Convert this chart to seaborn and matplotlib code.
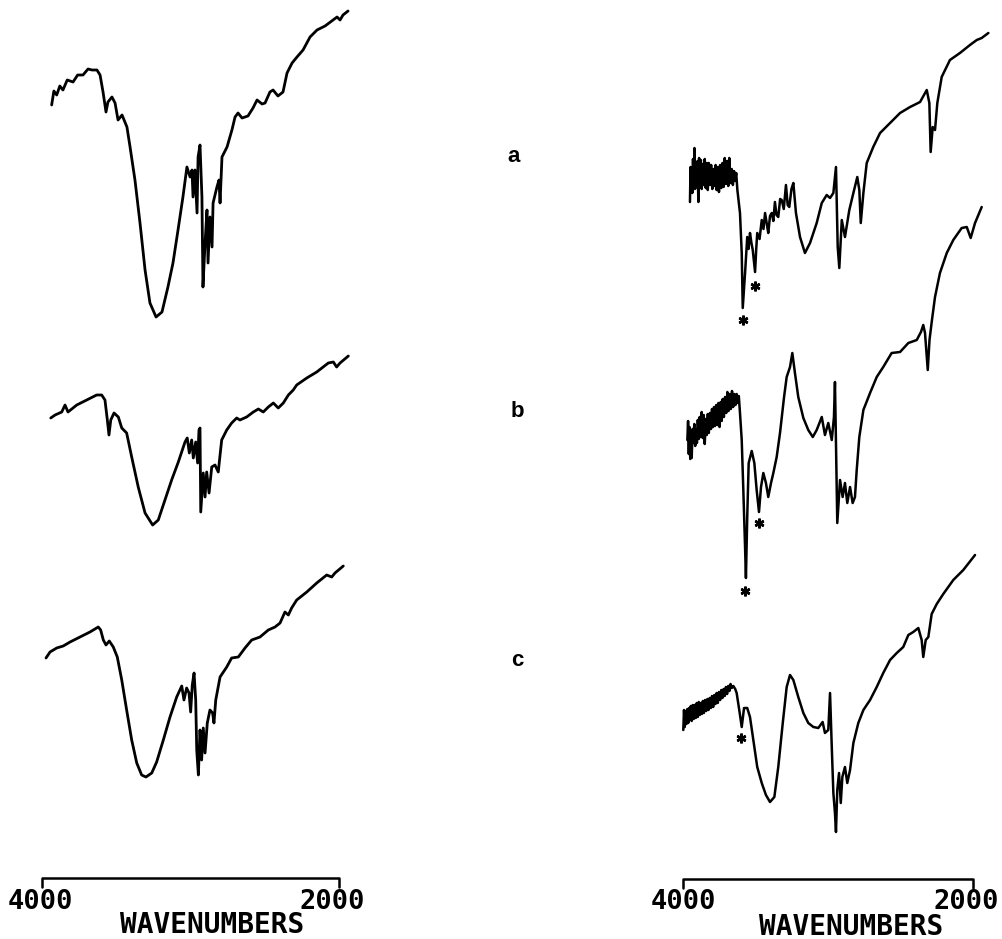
import numpy as np
import matplotlib
matplotlib.use("Agg")
import matplotlib.pyplot as plt
import pandas as pd
import seaborn as sns

# IR spectra: (wavenumber cm-1, offset transmittance, arbitrary units)
left_a = [(3935, 83.4), (3920, 84.8), (3901, 84.4), (3880, 85.3), (3859, 84.9), (3830, 85.9),
          (3791, 85.7), (3760, 86.4), (3724, 86.4), (3690, 87.0), (3663, 86.9), (3630, 86.9),
          (3609, 86.4), (3589, 84.7), (3569, 82.7), (3556, 83.7), (3529, 84.2), (3508, 83.6),
          (3488, 81.9), (3461, 82.4), (3428, 81.2), (3407, 79.2), (3374, 75.9), (3340, 71.6),
          (3306, 66.9), (3273, 63.6), (3232, 62.2), (3192, 62.7), (3152, 65.2), (3118, 67.6),
          (3084, 70.9), (3051, 74.2), (3024, 77.2), (3003, 76.2), (2990, 76.9), (2983, 74.2),
          (2970, 76.9), (2956, 72.6), (2949, 78.2), (2936, 79.4), (2923, 74.2), (2916, 65.2),
          (2902, 69.6), (2889, 72.9), (2882, 67.6), (2869, 72.2), (2855, 69.2), (2848, 73.6),
          (2822, 75.2), (2808, 75.9), (2801, 73.6), (2788, 78.2), (2754, 79.2), (2721, 80.9),
          (2700, 82.2), (2680, 82.6), (2653, 82.1), (2613, 82.3), (2579, 83.1), (2552, 83.9),
          (2518, 83.5), (2498, 83.6), (2465, 84.7), (2444, 84.9), (2411, 84.3), (2377, 84.7),
          (2350, 86.6), (2316, 87.6), (2283, 88.2), (2242, 88.9), (2195, 90.2), (2148, 90.9),
          (2094, 91.3), (2040, 91.9), (2013, 92.2), (1993, 91.9), (1973, 92.4), (1939, 92.8)]

left_b = [(3941, 52.1), (3912, 52.4), (3867, 52.7), (3845, 53.4), (3825, 52.7), (3766, 53.4),
          (3699, 53.9), (3632, 54.4), (3598, 54.4), (3576, 53.9), (3560, 51.9), (3549, 50.4),
          (3537, 51.9), (3515, 52.6), (3486, 52.2), (3463, 51.1), (3430, 50.6), (3396, 48.2),
          (3352, 45.2), (3306, 42.6), (3255, 41.4), (3217, 41.9), (3172, 43.9), (3127, 45.9),
          (3082, 47.7), (3037, 49.7), (3022, 50.1), (3008, 48.6), (2992, 49.9), (2981, 48.1),
          (2965, 49.7), (2952, 47.6), (2943, 50.9), (2936, 51.1), (2931, 42.7), (2914, 46.6),
          (2902, 44.2), (2891, 46.7), (2875, 44.6), (2857, 47.2), (2835, 47.4), (2813, 46.7),
          (2806, 47.7), (2790, 49.9), (2756, 50.9), (2723, 51.6), (2689, 52.1), (2667, 51.9),
          (2622, 52.2), (2577, 52.7), (2543, 53.0), (2510, 52.7), (2476, 53.2), (2442, 53.6),
          (2409, 53.1), (2375, 53.6), (2341, 54.4), (2308, 54.9), (2285, 55.4), (2217, 56.1),
          (2150, 56.7), (2072, 57.6), (2038, 57.7), (2016, 57.2), (1993, 57.6), (1937, 58.3)]

left_c = [(3973, 28.1), (3946, 28.7), (3901, 29.1), (3857, 29.3), (3811, 29.7), (3744, 30.2),
          (3677, 30.7), (3621, 31.2), (3605, 30.9), (3587, 29.9), (3569, 29.4), (3547, 29.8),
          (3520, 29.2), (3493, 28.2), (3463, 25.9), (3430, 22.9), (3396, 19.9), (3362, 17.6),
          (3329, 16.4), (3300, 16.2), (3261, 16.6), (3228, 17.7), (3183, 19.9), (3138, 22.2),
          (3093, 24.2), (3059, 25.3), (3044, 23.9), (3026, 25.1), (3010, 24.6), (2999, 22.7),
          (2988, 25.4), (2976, 26.6), (2965, 23.9), (2958, 18.9), (2947, 16.4), (2936, 20.9),
          (2925, 17.9), (2914, 21.1), (2902, 18.6), (2887, 21.6), (2869, 22.9), (2851, 22.6),
          (2842, 21.6), (2830, 23.9), (2801, 26.2), (2756, 27.2), (2723, 28.1), (2678, 28.2),
          (2633, 29.1), (2588, 29.9), (2532, 30.2), (2476, 30.9), (2431, 31.2), (2397, 31.6),
          (2364, 32.7), (2341, 32.4), (2319, 33.1), (2285, 33.9), (2217, 34.7), (2150, 35.6),
          (2083, 36.4), (2049, 36.2), (2027, 36.6), (1971, 37.3)]

right_a = [(3952, 73.7), (3948, 77.2), (3944, 74.9), (3940, 76.8), (3936, 74.6), (3931, 78.0),
           (3926, 75.5), (3921, 79.1), (3917, 75.0), (3912, 77.6), (3906, 75.2), (3900, 77.8),
           (3894, 73.7), (3889, 78.1), (3883, 75.3), (3877, 77.9), (3871, 75.0), (3864, 77.5),
           (3857, 75.4), (3850, 78.0), (3843, 75.1), (3836, 77.6), (3829, 74.9), (3822, 77.6),
           (3814, 75.4), (3806, 77.4), (3798, 75.0), (3791, 77.0), (3783, 75.3), (3775, 77.4),
           (3768, 74.9), (3760, 77.2), (3752, 74.7), (3744, 77.4), (3736, 75.1), (3728, 77.6),
           (3720, 75.2), (3712, 78.1), (3704, 75.5), (3696, 77.8), (3688, 75.3), (3681, 78.1),
           (3673, 75.6), (3664, 77.0), (3656, 75.4), (3648, 76.8), (3641, 75.8), (3633, 76.6),
           (3625, 74.9), (3607, 72.6), (3595, 68.6), (3588, 63.1), (3572, 66.6), (3557, 70.2),
           (3548, 69.0), (3538, 70.6), (3528, 69.6), (3519, 68.9), (3503, 66.7), (3495, 69.0),
           (3488, 70.6), (3472, 70.0), (3457, 71.9), (3445, 71.0), (3434, 72.6), (3422, 71.5),
           (3412, 70.6), (3400, 72.3), (3388, 72.6), (3377, 71.8), (3366, 73.7), (3355, 72.4),
           (3343, 72.2), (3330, 74.0), (3319, 73.9), (3305, 73.0), (3290, 75.4), (3278, 73.4),
           (3267, 73.2), (3252, 75.0), (3239, 75.6), (3221, 72.6), (3193, 70.2), (3159, 68.6),
           (3124, 69.6), (3078, 71.6), (3043, 73.6), (3009, 74.4), (2986, 74.1), (2963, 74.6),
           (2945, 77.2), (2933, 69.2), (2922, 67.1), (2905, 71.9), (2883, 70.2), (2853, 72.9),
           (2825, 74.6), (2798, 76.2), (2784, 74.9), (2774, 71.6), (2756, 74.6), (2733, 77.6),
           (2688, 79.2), (2641, 80.6), (2572, 81.6), (2503, 82.6), (2434, 83.2), (2365, 83.7),
           (2319, 84.9), (2301, 83.6), (2292, 78.7), (2278, 81.2), (2262, 80.9), (2246, 83.6),
           (2216, 86.2), (2159, 87.9), (2090, 88.6), (2021, 89.4), (1974, 89.9), (1940, 90.1),
           (1894, 90.6)]

right_b = [(3970, 49.9), (3965, 51.8), (3960, 48.5), (3955, 51.2), (3950, 48.0), (3944, 50.5),
           (3940, 48.1), (3934, 51.0), (3929, 49.6), (3922, 51.5), (3916, 49.3), (3910, 51.0),
           (3904, 49.6), (3898, 51.9), (3891, 50.0), (3885, 52.2), (3878, 50.2), (3871, 52.7),
           (3864, 50.1), (3857, 52.4), (3850, 49.5), (3843, 52.0), (3836, 50.4), (3829, 52.5),
           (3822, 50.6), (3814, 52.6), (3807, 51.0), (3800, 53.0), (3793, 51.2), (3786, 53.2),
           (3779, 51.3), (3771, 53.4), (3763, 51.4), (3756, 53.6), (3748, 51.2), (3740, 53.7),
           (3733, 51.8), (3726, 54.0), (3718, 52.2), (3710, 54.2), (3702, 52.6), (3694, 54.7),
           (3686, 52.8), (3678, 54.5), (3670, 53.0), (3662, 54.8), (3654, 53.2), (3646, 54.5),
           (3638, 53.4), (3630, 54.5), (3622, 53.6), (3615, 54.3), (3607, 52.6), (3595, 49.9),
           (3584, 44.9), (3572, 39.2), (3566, 36.1), (3557, 42.2), (3547, 47.6), (3526, 48.8),
           (3508, 47.6), (3492, 44.9), (3476, 42.7), (3462, 45.2), (3446, 46.6), (3428, 45.6),
           (3412, 44.2), (3393, 45.6), (3377, 46.6), (3354, 48.2), (3331, 50.6), (3303, 54.2),
           (3285, 56.2), (3262, 57.2), (3246, 58.6), (3228, 56.6), (3205, 54.2), (3170, 52.1),
           (3136, 50.9), (3105, 50.2), (3078, 50.9), (3043, 52.2), (3021, 50.4), (2998, 51.6),
           (2974, 49.9), (2959, 52.2), (2952, 55.7), (2945, 49.6), (2936, 41.6), (2917, 45.9),
           (2899, 44.2), (2883, 45.6), (2867, 43.6), (2848, 45.2), (2830, 43.6), (2814, 44.2),
           (2802, 46.9), (2784, 50.2), (2756, 52.9), (2710, 54.6), (2664, 56.2), (2619, 57.2),
           (2561, 58.6), (2503, 58.7), (2446, 59.6), (2388, 59.9), (2359, 60.7), (2343, 61.4),
           (2331, 60.6), (2312, 56.9), (2300, 59.9), (2283, 61.9), (2262, 64.2), (2228, 66.6),
           (2181, 68.6), (2136, 69.9), (2078, 71.1), (2043, 71.2), (2016, 70.1), (1986, 71.6),
           (1940, 73.2)]

right_c = [(3998, 20.9), (3993, 22.9), (3988, 21.2), (3982, 22.8), (3976, 21.5), (3970, 23.0),
           (3964, 21.6), (3958, 23.1), (3952, 21.9), (3946, 23.3), (3940, 21.8), (3933, 23.4),
           (3926, 22.0), (3919, 23.4), (3912, 22.1), (3905, 23.6), (3898, 22.2), (3891, 23.7),
           (3884, 22.4), (3877, 23.6), (3870, 22.5), (3863, 23.8), (3856, 22.6), (3848, 23.9),
           (3840, 22.8), (3832, 24.0), (3824, 22.9), (3816, 24.1), (3808, 23.1), (3800, 24.3),
           (3792, 23.2), (3784, 24.4), (3776, 23.5), (3768, 24.6), (3760, 23.6), (3752, 24.7),
           (3744, 23.9), (3736, 24.9), (3728, 24.1), (3720, 25.0), (3712, 24.3), (3704, 25.2),
           (3696, 24.5), (3688, 25.3), (3680, 24.8), (3672, 25.5), (3664, 25.1), (3653, 25.3),
           (3640, 25.0), (3630, 24.6), (3612, 22.9), (3595, 21.2), (3579, 23.1), (3557, 23.1),
           (3538, 22.2), (3515, 19.9), (3488, 17.2), (3457, 15.6), (3428, 14.4), (3400, 13.7),
           (3370, 14.2), (3343, 17.2), (3312, 21.6), (3285, 25.2), (3262, 26.4), (3239, 25.9),
           (3205, 24.2), (3170, 22.6), (3136, 21.6), (3101, 21.2), (3067, 21.1), (3037, 21.7),
           (3021, 20.6), (2998, 20.9), (2986, 24.6), (2974, 19.2), (2963, 14.6), (2952, 12.6),
           (2945, 10.7), (2936, 14.9), (2924, 16.6), (2912, 13.6), (2901, 16.2), (2883, 17.2),
           (2867, 15.6), (2848, 16.9), (2825, 19.6), (2791, 21.6), (2756, 22.9), (2710, 23.9),
           (2664, 25.2), (2619, 26.6), (2572, 27.9), (2526, 28.6), (2481, 29.2), (2446, 30.4),
           (2412, 30.7), (2377, 31.1), (2354, 29.9), (2343, 28.2), (2326, 29.9), (2308, 30.2),
           (2285, 32.5), (2250, 33.5), (2205, 34.5), (2136, 35.9), (2067, 36.9), (1986, 38.4)]

# asterisks marking bands in the right-hand spectra
right_stars = [(3586, 61.9), (3503, 65.3), (3572, 34.8), (3476, 41.6), (3600, 20.1)]

panel_labels = ["a", "b", "c"]
scale_ticks = [4000, 2000]
axis_title = "WAVENUMBERS"

sns.set_style("white")
fig = plt.figure(figsize=(10.02, 9.39), dpi=100)

W = 1002.0
ax_l = fig.add_axes([42 / W, 0, 297 / W, 1])
ax_r = fig.add_axes([683 / W, 0, 290 / W, 1])


def draw_trace(ax, pts, lw):
    df = pd.DataFrame(pts, columns=["wn", "T"])
    sns.lineplot(data=df, x="wn", y="T", sort=False, estimator=None,
                 color="black", lw=lw, ax=ax, clip_on=False)


# scale bar with its two end ticks, tick labels nudged like the original plotter
def draw_scale(ax, bar_y, tick_y, label_x, label_y, title_x, title_y):
    ax.plot([scale_ticks[0], scale_ticks[0], scale_ticks[1], scale_ticks[1]],
            [tick_y, bar_y, bar_y, tick_y], color="black", lw=1.8, clip_on=False)
    for t, x in zip(scale_ticks, label_x):
        ax.text(x, label_y, str(t), ha="center", va="center", fontsize=19.5,
                family="DejaVu Sans Mono", weight="bold", color="black")
    ax.text(title_x, title_y, axis_title, ha="center", va="center", fontsize=20,
            family="DejaVu Sans Mono", weight="bold", color="black")


for ax, traces in [(ax_l, [left_a, left_b, left_c]), (ax_r, [right_a, right_b, right_c])]:
    for pts in traces:
        draw_trace(ax, pts, 2.0 if ax is ax_l else 1.8)
    ax.set_xlim(4000, 2000)
    ax.set_ylim(0, 93.9)
    ax.axis("off")

stars = pd.DataFrame(right_stars, columns=["wn", "T"])
ax_r.plot(stars["wn"], stars["T"], ls="none", marker=(6, 2, 0), ms=7, mew=1.8,
          color="black", clip_on=False)

draw_scale(ax_l, 6.1, 5.2, [4013, 2047], 3.7, 2855, 1.4)
draw_scale(ax_r, 6.0, 5.1, [4000, 2048], 3.7, 2841, 1.2)

for lab, (x, y) in zip(panel_labels, [(0.513, 0.833), (0.516, 0.562), (0.516, 0.297)]):
    fig.text(x, y, lab, ha="center", va="center", fontsize=16,
             family="Liberation Sans", weight="bold", color="black")

fig.savefig("out.png", dpi=100, facecolor="white")
